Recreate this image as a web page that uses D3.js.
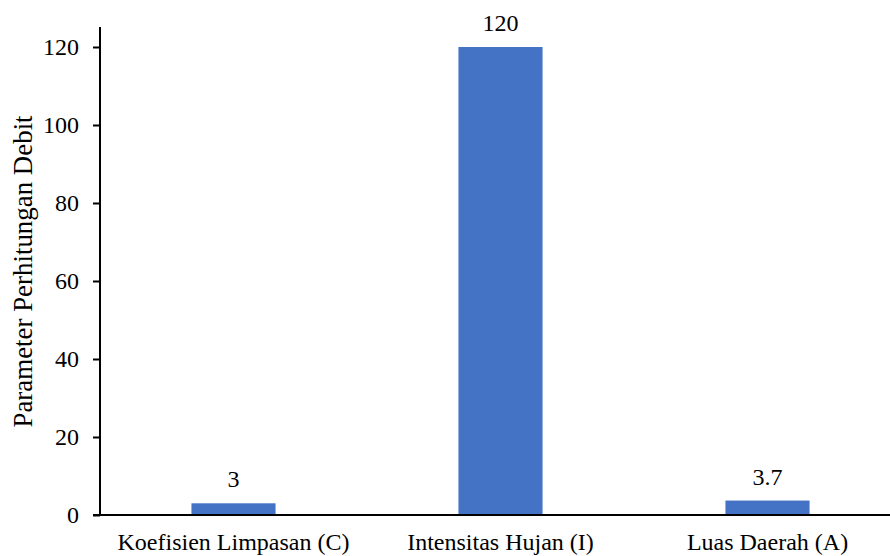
<!DOCTYPE html>
<html>
<head>
<meta charset="utf-8">
<script src="https://cdn.jsdelivr.net/npm/d3@7"></script>
<style>
  body { margin: 0; background: #fff; }
  svg { display: block; }
</style>
</head>
<body>
<svg id="chart" width="890" height="556"></svg>
<script>
const categories = ["Koefisien Limpasan (C)", "Intensitas Hujan (I)", "Luas Daerah (A)"];
const values = [3, 120, 3.7];
const valueLabels = ["3", "120", "3.7"];
const yTicks = [0, 20, 40, 60, 80, 100, 120];
const yTitle = "Parameter Perhitungan Debit";

const FONT = '"Liberation Serif", "Times New Roman", serif';
const svg = d3.select("#chart");
const x0 = 100, x1 = 901, yBase = 515, yTop = 47;

const x = d3.scaleBand().domain(categories).range([x0, x1])
  .paddingInner(0.685).paddingOuter(0.3425);
const y = d3.scaleLinear().domain([0, 120]).range([yBase, yTop]);

// bars
svg.append("g").selectAll("rect").data(values).join("rect")
  .attr("x", (d, i) => x(categories[i]))
  .attr("y", d => y(d))
  .attr("width", x.bandwidth())
  .attr("height", d => yBase - y(d))
  .attr("fill", "#4472C4");

// y axis
const yAxis = d3.axisLeft(y).tickValues(yTicks).tickSize(7).tickPadding(14);
const gy = svg.append("g").attr("transform", `translate(${x0},0)`).call(yAxis);
gy.attr("font-family", null).attr("font-size", null);
gy.select(".domain").remove();
gy.selectAll(".tick line").attr("stroke", "#000").attr("stroke-width", 2);
gy.selectAll(".tick text").style("font-family", FONT).style("font-size", "24px").attr("fill", "#000");
gy.append("line").attr("x1", 0).attr("x2", 0).attr("y1", 27).attr("y2", yBase + 1)
  .attr("stroke", "#000").attr("stroke-width", 2);

// x axis
const xAxis = d3.axisBottom(x).tickSize(0).tickPadding(18);
const gx = svg.append("g").attr("transform", `translate(0,${yBase})`).call(xAxis);
gx.attr("font-family", null).attr("font-size", null);
gx.select(".domain").remove();
gx.selectAll(".tick text").style("font-family", FONT).style("font-size", "24px").attr("fill", "#000");
gx.append("line").attr("x1", x0 - 7).attr("x2", 890).attr("y1", 0).attr("y2", 0)
  .attr("stroke", "#000").attr("stroke-width", 2);

// value labels
svg.append("g").selectAll("text").data(values).join("text")
  .attr("x", (d, i) => x(categories[i]) + x.bandwidth() / 2)
  .attr("y", d => y(d) - 16)
  .attr("text-anchor", "middle")
  .style("font-family", FONT)
  .style("font-size", "24px")
  .attr("fill", "#000")
  .text((d, i) => valueLabels[i]);

// y title
svg.append("text")
  .attr("transform", `translate(32,271.5) rotate(-90)`)
  .attr("text-anchor", "middle")
  .style("font-family", FONT)
  .style("font-size", "26.9px")
  .attr("fill", "#000")
  .text(yTitle);
</script>
</body>
</html>
